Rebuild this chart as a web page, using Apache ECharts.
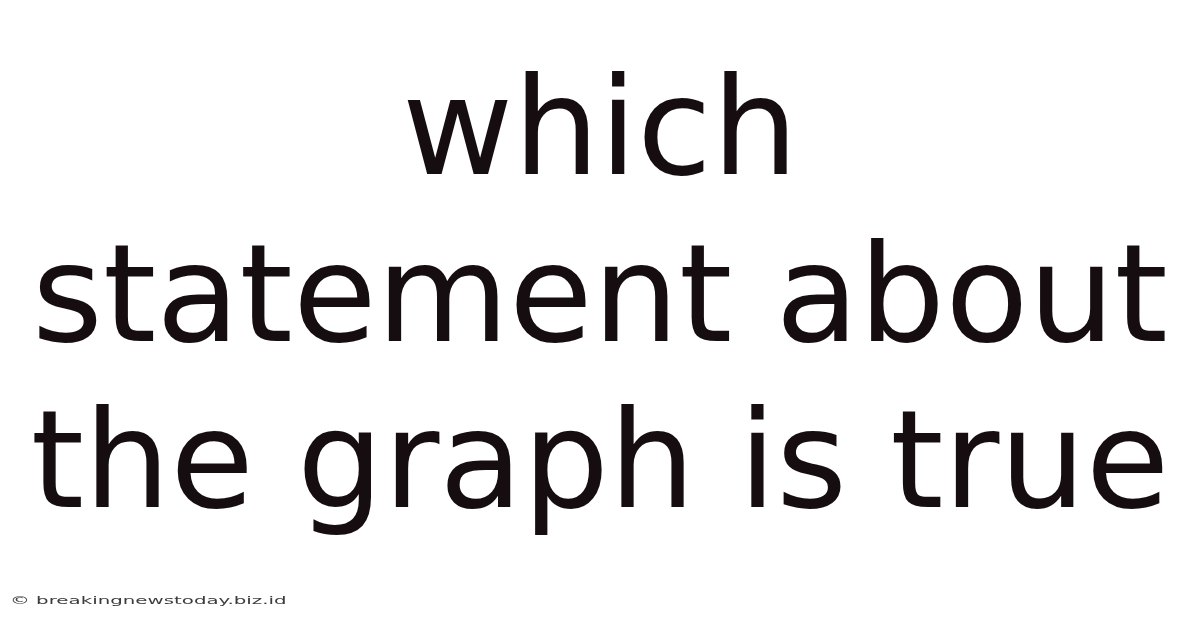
<!DOCTYPE html>
<html><head><meta charset="utf-8">
<script src="https://cdn.jsdelivr.net/npm/echarts@6/dist/echarts.min.js"></script>
<style>html,body{margin:0;padding:0;background:#fff}#c{width:1200px;height:628px}</style>
</head><body><div id="c"></div>
<script>
var titleLines = ["which", "statement about", "the graph is true"];
var watermark = "\u00a9 breakingnewstoday.biz.id";

var chart = echarts.init(document.getElementById('c'));
var els = [];
var lineY = [139, 306, 472];
titleLines.forEach(function (t, i) {
  els.push({
    type: 'text', left: 'center', y: lineY[i],
    style: { text: t, font: '136px "DejaVu Sans"', fill: '#150d0f', textAlign: 'center', textVerticalAlign: 'middle' }
  });
});
els.push({
  type: 'text', x: 10, y: 601, scaleX: 1.8, scaleY: 1, originX: 0, originY: 0,
  style: { text: watermark, font: '11px "DejaVu Sans"', fill: '#3c3c3c', textVerticalAlign: 'middle' }
});
chart.setOption({ backgroundColor: '#ffffff', graphic: { elements: els } });
</script></body></html>
